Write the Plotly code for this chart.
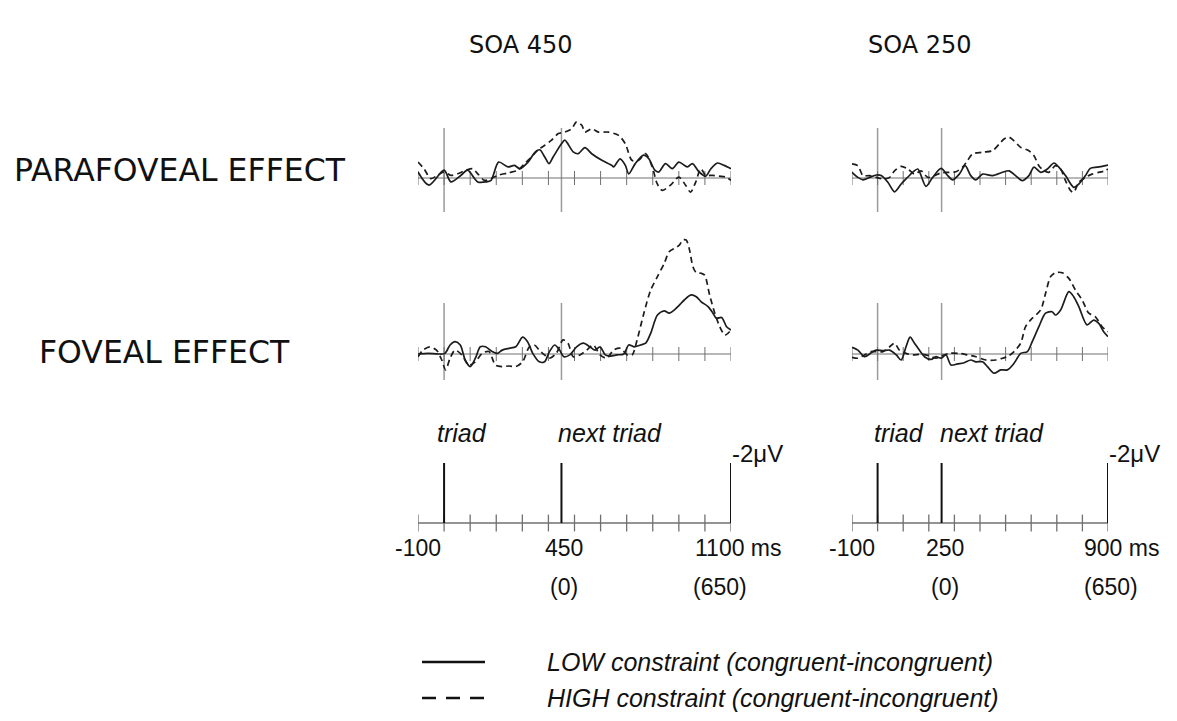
import plotly.graph_objects as go

# ---------------- data (amplitudes in µV, negative polarity plotted up: values are -µV) -------------
SOA = [450, 250]
T_START = -100
T_END = [1100, 900]
TICKS_450 = [-100, 0, 100, 200, 300, 400, 500, 600, 700, 800, 900, 1000, 1100]
TICKS_250 = [-100, 0, 100, 200, 300, 400, 500, 600, 700, 800, 900]
CAL_UV = 2

col_titles = ["SOA 450", "SOA 250"]
row_labels = ["PARAFOVEAL EFFECT", "FOVEAL EFFECT"]
legend_labels = ["LOW constraint (congruent-incongruent)", "HIGH constraint (congruent-incongruent)"]

# Parafoveal, SOA 450
para450_low_t = [-100, -58, 0, 26, 65, 90, 129, 161, 180, 209, 245, 270, 290, 322, 350, 367, 386, 402, 418, 450,
                 463, 495, 514, 540, 566, 605, 643, 650, 675, 695, 708, 733, 765, 785, 808, 823, 849, 875, 900,
                 933, 952, 978, 1003, 1023, 1048, 1074, 1100]
para450_low = [0.2, -0.24, 0.26, -0.13, 0.09, 0.26, -0.13, -0.13, -0.08, 0.53, 0.37, 0.42, 0.31, 0.53, 0.87, 0.94,
               0.7, 0.48, 0.7, 1.14, 1.26, 0.87, 0.81, 1.01, 0.81, 0.59, 0.42, 0.37, 0.64, 0.42, 0.14, 0.48, 0.76,
               0.64, 0.26, 0.2, 0.48, 0.31, 0.53, 0.37, 0.48, 0.2, 0.06, 0.31, 0.5, 0.42, 0.31]
para450_high_t = [-100, -77, -51, -25, 0, 26, 52, 84, 110, 129, 155, 180, 206, 245, 283, 309, 335, 360, 386, 412,
                  438, 463, 489, 508, 528, 540, 566, 592, 630, 669, 695, 720, 746, 772, 798, 817, 836, 868, 900,
                  926, 945, 965, 984, 1003, 1029, 1055, 1080, 1100]
para450_high = [0.53, 0.31, -0.02, 0.09, 0.2, 0.09, 0.14, 0.26, 0.31, 0.14, -0.08, -0.02, 0.09, 0.17, 0.26, 0.48,
                0.7, 0.94, 1.09, 1.26, 1.48, 1.53, 1.64, 1.87, 1.76, 1.53, 1.64, 1.53, 1.53, 1.42, 1.14, 0.59, 0.59,
                0.81, 0.37, -0.19, -0.41, -0.24, 0.03, -0.24, -0.47, -0.13, 0.31, 0.09, 0.09, 0.06, 0.03, -0.08]

# Parafoveal, SOA 250
para250_low_t = [-100, -77, -57, -31, -5, 14, 40, 66, 92, 111, 137, 157, 189, 215, 248, 274, 293, 319, 342, 364,
                 384, 410, 449, 488, 513, 539, 565, 591, 611, 637, 663, 689, 708, 734, 766, 786, 812, 831, 857,
                 877, 900]
para250_low = [0.19, 0.02, -0.06, 0.02, 0.1, 0.08, -0.14, -0.46, -0.2, -0.03, 0.19, 0.3, -0.28, 0.02, 0.32, 0.08,
               -0.06, 0.13, 0.41, 0.08, -0.06, 0.13, 0.08, 0.19, 0.24, 0.08, -0.09, 0.08, 0.36, 0.19, 0.3, 0.5,
               0.36, 0.08, -0.31, -0.2, 0.08, 0.32, 0.36, 0.39, 0.43]
para250_high_t = [-100, -77, -57, -31, -5, 21, 47, 66, 92, 118, 144, 170, 196, 222, 248, 280, 306, 332, 351, 371,
                  410, 449, 475, 494, 513, 533, 559, 591, 611, 630, 650, 669, 695, 715, 734, 754, 766, 786, 812,
                  838, 864, 890, 900]
para250_high = [0.47, 0.41, 0.08, 0.08, 0.02, -0.03, 0.02, 0.24, 0.39, 0.3, 0.13, 0.24, 0.02, 0.08, 0.17, 0.19,
                0.21, 0.36, 0.58, 0.8, 0.86, 0.91, 1.13, 1.3, 1.36, 1.24, 1.02, 0.91, 0.74, 0.41, 0.24, 0.19, 0.41,
                0.3, -0.09, -0.42, -0.48, -0.14, 0.02, 0.13, 0.19, 0.24, 0.3]

# Foveal, SOA 450
fov450_low_t = [-100, -61, -22, 3, 23, 42, 62, 81, 100, 120, 139, 159, 184, 204, 223, 249, 275, 301, 320, 340,
                365, 385, 404, 424, 443, 459, 482, 508, 534, 559, 579, 598, 618, 637, 663, 689, 708, 728, 753, 773,
                792, 818, 844, 863, 883, 902, 921, 947, 967, 986, 1012, 1031, 1044, 1064, 1083, 1100]
fov450_low = [0, 0.02, 0, 0.02, 0.3, 0.41, 0.3, -0.2, -0.42, -0.14, 0.24, 0.24, 0.08, 0.02, 0.13, 0.19, 0.24, 0.56,
              0.41, 0.02, -0.26, -0.26, 0.08, 0.3, 0.13, -0.09, -0.03, 0.24, 0.36, 0.24, 0.13, 0.24, -0.03, -0.07,
              -0.03, 0, 0.3, 0.24, 0.3, 0.36, 0.69, 1.3, 1.44, 1.36, 1.47, 1.63, 1.8, 1.97, 1.91, 1.74, 1.58, 1.36,
              1.19, 1.22, 0.91, 0.8]
fov450_high_t = [-100, -81, -55, -29, -9, 6, 23, 42, 68, 94, 120, 146, 172, 197, 223, 249, 275, 301, 327, 346,
                 365, 385, 404, 430, 456, 475, 495, 521, 547, 572, 598, 624, 650, 676, 702, 721, 740, 766, 792, 818,
                 844, 863, 883, 902, 915, 928, 941, 954, 967, 986, 999, 1018, 1038, 1057, 1077, 1100]
fov450_high = [-0.09, 0.13, 0.24, 0.13, -0.2, -0.53, -0.14, 0.13, -0.03, -0.37, -0.26, 0.02, 0.08, -0.37, -0.42,
               -0.4, -0.42, -0.26, 0.24, 0.3, 0.13, -0.03, -0.14, 0.02, 0.47, 0.36, -0.09, -0.03, 0.13, 0.3, -0.03,
               -0.14, 0.13, 0.19, -0.03, -0.03, 0.47, 1.36, 2.13, 2.58, 3.02, 3.41, 3.52, 3.63, 3.8, 3.8, 3.47,
               2.91, 2.71, 2.69, 2.63, 1.97, 1.36, 0.91, 0.63, 0.8]

# Foveal, SOA 250
fov250_low_t = [-100, -77, -51, -25, -5, 21, 47, 73, 92, 111, 127, 144, 163, 183, 209, 228, 248, 267, 287, 312,
                338, 364, 384, 410, 429, 455, 481, 507, 533, 559, 585, 604, 630, 656, 682, 695, 715, 747, 766, 786,
                818, 844, 864, 883, 900]
fov250_low = [0.22, 0.13, -0.09, 0.04, 0.13, 0.11, 0.13, -0.03, -0.2, 0.24, 0.56, 0.36, 0.13, -0.09, -0.18, -0.09,
              -0.14, -0.03, -0.37, -0.33, -0.29, -0.2, -0.26, -0.26, -0.42, -0.64, -0.53, -0.53, -0.31, 0.02, 0.08,
              0.41, 0.91, 1.36, 1.41, 1.3, 1.47, 2.08, 1.91, 1.58, 0.97, 1.13, 1.02, 0.74, 0.58]
fov250_high_t = [-100, -77, -51, -25, -5, 21, 47, 66, 85, 111, 137, 170, 202, 228, 248, 280, 319, 351, 384, 423,
                 462, 488, 507, 533, 559, 578, 604, 637, 656, 676, 695, 721, 747, 773, 799, 825, 851, 877, 900]
fov250_high = [-0.11, -0.14, -0.03, 0.08, 0.08, 0.08, 0.24, 0.36, 0.13, 0.02, -0.03, -0.01, -0.06, -0.14, -0.07,
               0.02, 0.02, -0.03, -0.09, -0.2, -0.2, -0.14, -0.09, 0.08, 0.36, 0.91, 1.19, 1.47, 2.02, 2.58, 2.71,
               2.71, 2.52, 2.13, 1.8, 1.36, 1.24, 0.91, 0.74]

# ---------------- layout helpers (pixel geometry) ----------------
W, H = 1177, 721
PX_PER_UV = 30.0


def fx(p):
    return p / W


def fy(p):
    return 1 - p / H


COL_PX = [(418, 731), (852, 1108)]
# (top px, bottom px, baseline px)
ROW_PX = {"para": (110, 215, 178), "fov": (225, 385, 354), "scale": (440, 535, 523)}
STIM_LINE_PX = {"para": (128, 212), "fov": (303, 380)}

WAVE_COLOR = "#1c1c1c"
STIM_COLOR = "#9a9a9a"
AXIS_COLOR = "#707070"
FONT_SANS = "Liberation Sans, Arial, sans-serif"
FONT_TITLE = "DejaVu Sans, Verdana, sans-serif"

fig = go.Figure()
layout_axes = {}
shapes = []
annotations = []

panels = [
    # (axis index, col, row, low_t, low, high_t, high)
    (1, 0, "para", para450_low_t, para450_low, para450_high_t, para450_high),
    (2, 1, "para", para250_low_t, para250_low, para250_high_t, para250_high),
    (3, 0, "fov", fov450_low_t, fov450_low, fov450_high_t, fov450_high),
    (4, 1, "fov", fov250_low_t, fov250_low, fov250_high_t, fov250_high),
    (5, 0, "scale", None, None, None, None),
    (6, 1, "scale", None, None, None, None),
]

for idx, col, row, lt, lv, ht, hv in panels:
    xa = "x" if idx == 1 else f"x{idx}"
    ya = "y" if idx == 1 else f"y{idx}"
    top, bot, base = ROW_PX[row]
    x0p, x1p = COL_PX[col]
    layout_axes["xaxis" if idx == 1 else f"xaxis{idx}"] = dict(
        domain=[fx(x0p), fx(x1p)], range=[T_START, T_END[col]], visible=False, anchor=ya, fixedrange=True)
    layout_axes["yaxis" if idx == 1 else f"yaxis{idx}"] = dict(
        domain=[fy(bot), fy(top)], range=[-(bot - base) / PX_PER_UV, (base - top) / PX_PER_UV],
        visible=False, anchor=xa, fixedrange=True)

    ticks = TICKS_450 if col == 0 else TICKS_250
    is_scale = row == "scale"
    # baseline
    fig.add_trace(go.Scatter(x=[T_START, T_END[col]], y=[0, 0], mode="lines",
                             line=dict(color=AXIS_COLOR, width=1.3 if is_scale else 1),
                             xaxis=xa, yaxis=ya, showlegend=False, hoverinfo="skip"))
    # ticks crossing the baseline
    fig.add_trace(go.Scatter(x=ticks, y=[0] * len(ticks), mode="markers",
                             marker=dict(symbol="line-ns", size=12 if is_scale else 10,
                                         line=dict(color=AXIS_COLOR, width=1.3 if is_scale else 1)),
                             xaxis=xa, yaxis=ya, showlegend=False, hoverinfo="skip"))
    if is_scale:
        for t in [0, SOA[col], T_END[col]]:
            fig.add_trace(go.Scatter(x=[t, t], y=[0, CAL_UV], mode="lines",
                                     line=dict(color="#111111", width=2),
                                     xaxis=xa, yaxis=ya, showlegend=False, hoverinfo="skip"))
    else:
        s_top, s_bot = STIM_LINE_PX[row]
        for t in [0, SOA[col]]:
            shapes.append(dict(type="line", xref=xa, yref=f"{ya} domain", x0=t, x1=t,
                               y0=(bot - s_bot) / (bot - top), y1=(bot - s_top) / (bot - top),
                               line=dict(color=STIM_COLOR, width=1.5), layer="below"))
        fig.add_trace(go.Scatter(x=lt, y=lv, mode="lines", name=legend_labels[0],
                                 line=dict(color=WAVE_COLOR, width=1.7, shape="spline", smoothing=0.8),
                                 xaxis=xa, yaxis=ya, showlegend=False))
        fig.add_trace(go.Scatter(x=ht, y=hv, mode="lines", name=legend_labels[1],
                                 line=dict(color=WAVE_COLOR, width=1.7, shape="spline", smoothing=0.8,
                                           dash="6px,4px"),
                                 xaxis=xa, yaxis=ya, showlegend=False))

# ---------------- text ----------------
TXT = "#111111"


def ann(text, x, y, xref="paper", size=21, family=FONT_SANS, xanchor="center", style="normal", xshift=0):
    annotations.append(dict(text=text, x=x, y=y, xref=xref, yref="paper", showarrow=False,
                            xanchor=xanchor, yanchor="middle", xshift=xshift,
                            font=dict(size=size, family=family, color=TXT, style=style)))


# column titles
ann(col_titles[0], fx(521), fy(45), size=24, family=FONT_TITLE)
ann(col_titles[1], fx(920), fy(45), size=24, family=FONT_TITLE)
# row labels
ann(row_labels[0], fx(12), fy(170), size=31.5, family=FONT_TITLE, xanchor="left")
ann(row_labels[1], fx(37), fy(352), size=31.5, family=FONT_TITLE, xanchor="left")

# scale-panel labels
for col, xa in [(0, "x5"), (1, "x6")]:
    ann("triad", 0, fy(433), xref=xa, size=25, xanchor="left", style="italic", xshift=-9 if col == 0 else -6)
    ann("next triad", SOA[col], fy(433), xref=xa, size=25, xanchor="left", style="italic",
        xshift=-5 if col == 0 else -4)
    ann(f"-{CAL_UV}\u03bcV", T_END[col], fy(453), xref=xa, size=24, xanchor="left", xshift=-1)
    ann(str(T_START), T_START, fy(548), xref=xa, size=23)
    ann(str(SOA[col]), SOA[col], fy(548), xref=xa, size=23, xshift=3)
    ann("(0)", SOA[col], fy(587), xref=xa, size=23, xshift=3)
    ann(f"{T_END[col]} ms", T_END[col], fy(548), xref=xa, size=23, xanchor="left",
        xshift=-38 if col == 0 else -26)
    ann(f"({T_END[col] - SOA[col]})", T_END[col], fy(587), xref=xa, size=23, xanchor="left",
        xshift=-40 if col == 0 else -26)

# legend
shapes.append(dict(type="line", xref="paper", yref="paper", x0=fx(422), x1=fx(485), y0=fy(662), y1=fy(662),
                   line=dict(color="#111111", width=2.5)))
shapes.append(dict(type="line", xref="paper", yref="paper", x0=fx(422), x1=fx(485), y0=fy(698), y1=fy(698),
                   line=dict(color="#111111", width=2.5, dash="14px,10px")))
ann(legend_labels[0], fx(545), fy(662), size=25, xanchor="left", style="italic")
ann(legend_labels[1], fx(545), fy(698), size=25, xanchor="left", style="italic")

fig.update_layout(
    width=W, height=H, margin=dict(l=0, r=0, t=0, b=0),
    paper_bgcolor="white", plot_bgcolor="rgba(0,0,0,0)",
    showlegend=False, shapes=shapes, annotations=annotations, **layout_axes)

fig.write_html("out.html")
